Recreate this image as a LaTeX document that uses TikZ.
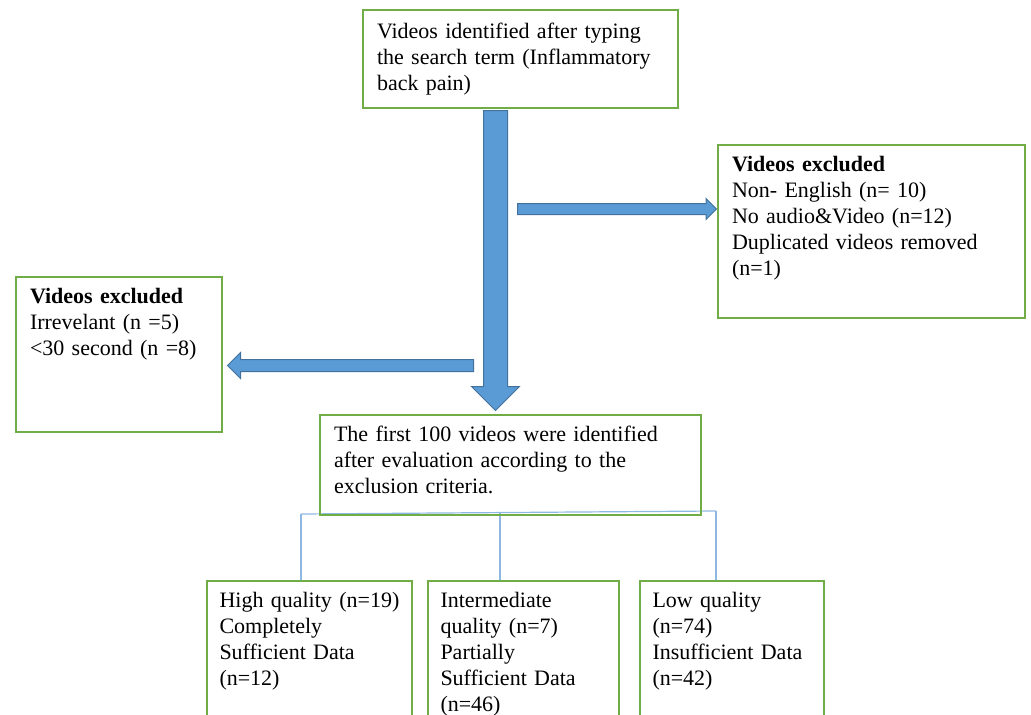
\documentclass[tikz,border=0pt]{standalone}
\usepackage{fontspec}
\setmainfont{Liberation Serif}
\usetikzlibrary{shapes.arrows,backgrounds}
\definecolor{boxgreen}{RGB}{112,173,71}
\definecolor{arrowblue}{RGB}{91,155,213}
\definecolor{arrowedge}{RGB}{65,113,156}
\definecolor{linkblue}{RGB}{141,184,226}
\tikzset{
  box/.style={draw=boxgreen, line width=2pt, anchor=north west, align=left,
    inner xsep=14pt, inner ysep=10pt, text height=16pt,
    font=\fontsize{22}{26}\selectfont},
  leafbox/.style={box, inner xsep=12.5pt, text depth=124pt},
  blockarrow/.style={single arrow, draw=arrowedge, fill=arrowblue, line width=1pt,
    inner xsep=0pt, minimum width=0pt, anchor=tail},
  link/.style={draw=linkblue, line width=1.2pt}
}
\begin{document}
\begin{tikzpicture}[x=1pt,y=-1pt]
        \useasboundingbox (0,0) rectangle (1031,715);
        \clip (0,0) rectangle (1031,715);
        % boxes
        \node[box, inner ysep=12pt, text width=287pt, text depth=58pt] (search) at (362,9)
        {Videos identified after typing\\the search term (Inflammatory\\back pain)};
        \node[box, text width=279pt, text depth=137pt] (exclR) at (717,144)
        {\textbf{Videos excluded}\\Non- English (n= 10)\\No audio\&Video (n=12)\\Duplicated videos removed\\(n=1)};
        \node[box, text width=178pt, text depth=119pt] (exclL) at (15,276)
        {\textbf{Videos excluded}\\Irrevelant (n =5)\\<30 second (n =8)};
        \node[box, text width=353pt, text depth=64pt] (first) at (319,414)
        {The first 100 videos were identified\\after evaluation according to the\\exclusion criteria.};
        \node[leafbox, text width=180pt] (high) at (206,580)
        {High quality (n=19)\\Completely\\Sufficient Data\\(n=12)};
        \node[leafbox, text width=166pt] (inter) at (427,580)
        {Intermediate\\quality (n=7)\\Partially\\Sufficient Data\\(n=46)};
        \node[leafbox, text width=159pt] (low) at (639,580)
        {Low quality\\(n=74)\\Insufficient Data\\(n=42)};
        % block arrows
        \node[blockarrow, rotate=-90, inner ysep=11.5pt, single arrow head extend=12pt,
            minimum height=300pt] (down) at (495.5,110) {};
        \node[blockarrow, inner ysep=5pt, single arrow head extend=5pt,
            minimum height=199pt] (toR) at (517,209) {};
        \node[blockarrow, rotate=180, inner ysep=5.5pt, single arrow head extend=7pt,
            minimum height=246pt] (toL) at (474,365.5) {};
        % split into the three quality groups
        \begin{scope}[on background layer]
            \coordinate (busL) at (301,514);
            \coordinate (busM) at (500,512.5);
            \coordinate (busR) at (716,511);
            \draw[link] (busL) -- (busR);
            \draw[link] (busL) -- (busL |- high.north);
            \draw[link] (busM) -- (busM |- inter.north);
            \draw[link] (busR) -- (busR |- low.north);
        \end{scope}
\end{tikzpicture}
\end{document}
